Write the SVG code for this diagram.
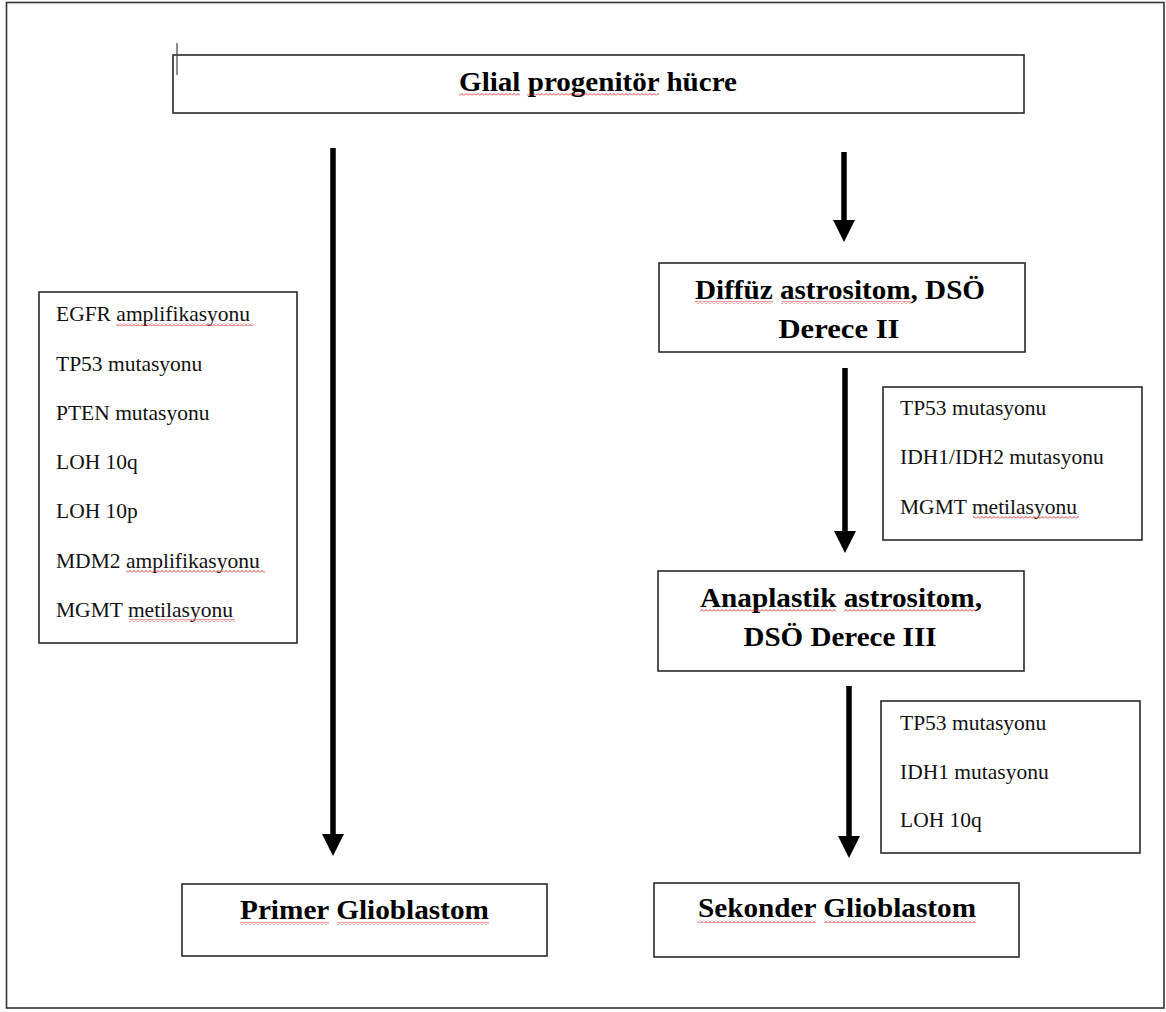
<svg xmlns="http://www.w3.org/2000/svg" width="1166" height="1012" viewBox="0 0 1166 1012" font-family="'Liberation Serif', 'Times New Roman', 'DejaVu Serif', serif">
<defs>
<style>
.box{fill:#fff;stroke:#2a2a2a;stroke-width:1.6}
.title{font-family:'Liberation Serif','Times New Roman','DejaVu Serif',serif;font-weight:bold;font-size:28px;fill:#000;text-anchor:middle}
.item{font-family:'Liberation Serif','Times New Roman','DejaVu Serif',serif;font-size:21.5px;fill:#111}
.conn{stroke:#000;stroke-width:5.5;fill:none}
.sq{fill:url(#squig)}
</style>
<marker id="ah" viewBox="0 0 22 22" markerUnits="userSpaceOnUse" markerWidth="22" markerHeight="22" refX="2" refY="11" orient="auto">
<path d="M0,0 L22,11 L0,22 z" fill="#000"/>
</marker>
<pattern id="squig" patternUnits="userSpaceOnUse" x="0" y="0" width="4" height="3">
<polyline points="0,2.5 2,0.5 4,2.5" fill="none" stroke="#e02020" stroke-width="0.9"/>
</pattern>
</defs>
<rect x="0" y="0" width="1166" height="1012" fill="#fff"/>
<rect x="6.5" y="2.5" width="1157.5" height="1005.5" fill="none" stroke="#333" stroke-width="1.6"/>

<g id="connectors">
<line class="conn" x1="333" y1="148" x2="333" y2="836" marker-end="url(#ah)"/>
<line class="conn" x1="844" y1="152" x2="844" y2="222" marker-end="url(#ah)"/>
<line class="conn" x1="845" y1="368" x2="845" y2="533" marker-end="url(#ah)"/>
<line class="conn" x1="849" y1="686" x2="849" y2="838" marker-end="url(#ah)"/>
</g>

<g id="node-glial">
<rect class="box" x="173" y="55" width="851" height="58"/>
<text class="title" x="598" y="91" textLength="278" lengthAdjust="spacingAndGlyphs">Glial progenitör hücre</text>
<rect class="sq" x="459" y="93" width="61" height="3"/>
<rect class="sq" x="527" y="93" width="132" height="3"/>
</g>
<line x1="177" y1="43" x2="177" y2="75" stroke="#444" stroke-width="1.2"/>

<g id="node-diffuz">
<rect class="box" x="659" y="263" width="366" height="89"/>
<text class="title" x="840" y="299" textLength="290" lengthAdjust="spacingAndGlyphs">Diffüz astrositom, DSÖ</text>
<text class="title" x="839" y="338" textLength="121" lengthAdjust="spacingAndGlyphs">Derece II</text>
<rect class="sq" x="695" y="301" width="78" height="3"/>
<rect class="sq" x="781" y="301" width="130" height="3"/>
</g>

<g id="node-anaplastik">
<rect class="box" x="658" y="571" width="366" height="100"/>
<text class="title" x="841" y="607" textLength="282" lengthAdjust="spacingAndGlyphs">Anaplastik astrositom,</text>
<text class="title" x="840" y="646" textLength="193" lengthAdjust="spacingAndGlyphs">DSÖ Derece III</text>
<rect class="sq" x="700" y="609" width="136" height="3"/>
<rect class="sq" x="844" y="609" width="131" height="3"/>
</g>

<g id="node-primer">
<rect class="box" x="182" y="884" width="365" height="72"/>
<text class="title" x="364.5" y="919" textLength="249" lengthAdjust="spacingAndGlyphs">Primer Glioblastom</text>
<rect class="sq" x="240" y="922" width="89" height="3"/>
<rect class="sq" x="337" y="922" width="152" height="3"/>
</g>

<g id="node-sekonder">
<rect class="box" x="654" y="883" width="365" height="74"/>
<text class="title" x="837" y="917" textLength="278" lengthAdjust="spacingAndGlyphs">Sekonder Glioblastom</text>
<rect class="sq" x="698" y="920" width="118" height="3"/>
<rect class="sq" x="824" y="920" width="152" height="3"/>
</g>

<g id="node-primer-markers">
<rect class="box" x="39" y="292" width="258" height="351"/>
<text class="item" x="56" y="321">EGFR amplifikasyonu</text>
<text class="item" x="56" y="371">TP53 mutasyonu</text>
<text class="item" x="56" y="420">PTEN mutasyonu</text>
<text class="item" x="56" y="469">LOH 10q</text>
<text class="item" x="56" y="518">LOH 10p</text>
<text class="item" x="56" y="568">MDM2 amplifikasyonu</text>
<text class="item" x="56" y="617">MGMT metilasyonu</text>
<rect class="sq" x="116" y="323" width="138" height="3"/>
<rect class="sq" x="126" y="570" width="139" height="3"/>
<rect class="sq" x="129" y="619" width="106" height="3"/>
</g>

<g id="node-secondary-markers-1">
<rect class="box" x="883" y="387" width="259" height="153"/>
<text class="item" x="900" y="415">TP53 mutasyonu</text>
<text class="item" x="900" y="464">IDH1/IDH2 mutasyonu</text>
<text class="item" x="900" y="514">MGMT metilasyonu</text>
<rect class="sq" x="973" y="516" width="106" height="3"/>
</g>

<g id="node-secondary-markers-2">
<rect class="box" x="881" y="701" width="259" height="152"/>
<text class="item" x="900" y="730">TP53 mutasyonu</text>
<text class="item" x="900" y="779">IDH1 mutasyonu</text>
<text class="item" x="900" y="827">LOH 10q</text>
</g>
</svg>
